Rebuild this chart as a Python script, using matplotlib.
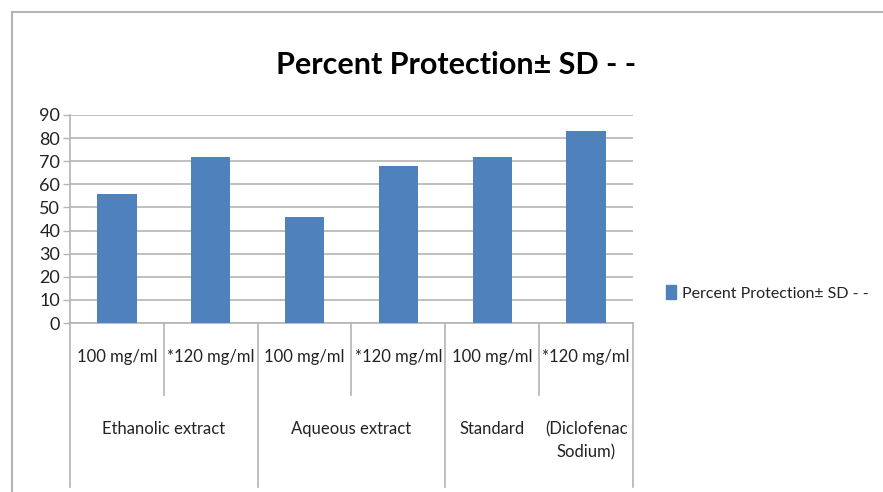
import matplotlib.pyplot as plt
from matplotlib.lines import Line2D
from matplotlib.patches import Patch

plt.rcParams['font.family'] = ['Lato', 'DejaVu Sans']

doses = ["100 mg/ml", "*120 mg/ml", "100 mg/ml", "*120 mg/ml", "100 mg/ml", "*120 mg/ml"]
groups = ["Ethanolic extract", "Aqueous extract", "Standard", "(Diclofenac\nSodium)"]
protection = [56, 72, 46, 68, 72, 83]
series_name = "Percent Protection\u00b1 SD - -"

BAR = "#4F81BD"
GRID = "#B4B4B4"
TXT = "#222222"

fig = plt.figure(figsize=(8.83, 4.92), dpi=100)
ax = fig.add_axes([70/883, 1-323/492, 563/883, 208/492])

x = list(range(len(protection)))
ax.bar(x, protection, width=0.42, color=BAR, zorder=3)
ax.set_xlim(-0.5, len(protection)-0.5)
ax.set_ylim(0, 90)
ax.set_yticks(range(0, 91, 10))
ax.tick_params(axis='y', labelsize=13, colors=GRID, labelcolor=TXT, length=5, width=1, pad=2)
ax.set_xticks([])
ax.grid(axis='y', color=GRID, linewidth=1.2, zorder=0)
for s in ['top', 'right']:
    ax.spines[s].set_visible(False)
for s in ['left', 'bottom']:
    ax.spines[s].set_color(GRID)
    ax.spines[s].set_linewidth(1.2)

# category separators below the axis
trans = ax.get_xaxis_transform()
for i in range(len(protection)+1):
    xb = i - 0.5
    bottom = -0.788 if i % 2 == 0 else -0.346
    ax.plot([xb, xb], [0, bottom], transform=trans, color=GRID, lw=1.2, clip_on=False)

for i, d in enumerate(doses):
    ax.text(i, -0.163, d, transform=trans, ha='center', va='center', fontsize=12, color=TXT)

ax.text(0.5, -0.51, groups[0], transform=trans, ha='center', va='center', fontsize=12, color=TXT)
ax.text(2.5, -0.51, groups[1], transform=trans, ha='center', va='center', fontsize=12, color=TXT)
ax.text(4, -0.51, groups[2], transform=trans, ha='center', va='center', fontsize=12, color=TXT)
ax.text(5, -0.567, groups[3], transform=trans, ha='center', va='center', fontsize=12, color=TXT, linespacing=1.5)

fig.text(456/883, 1-65/492, series_name, ha='center', va='center', fontsize=22, fontweight='bold', color='black')

leg = fig.legend(handles=[Patch(color=BAR, label=series_name)], loc='center left',
                 bbox_to_anchor=(652/883, 1-293/492), frameon=False, fontsize=11.5,
                 handlelength=0.6, handleheight=0.9, handletextpad=0.4)
for t in leg.get_texts():
    t.set_color(TXT)

# outer frame
fig.add_artist(Line2D([12/883, 12/883], [0, 1-12/492], color=GRID, lw=1.5))
fig.add_artist(Line2D([12/883, 1], [1-12/492, 1-12/492], color=GRID, lw=1.5))

plt.savefig('out.png', dpi=100)
